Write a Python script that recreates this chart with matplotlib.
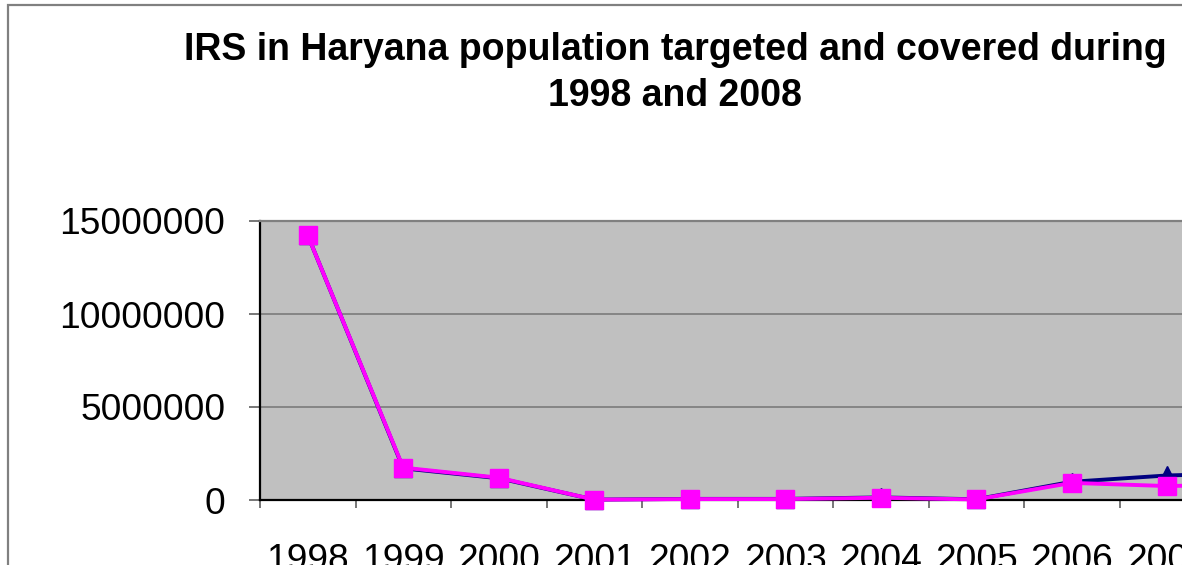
import numpy as np
import matplotlib
matplotlib.use("Agg")
import matplotlib.pyplot as plt
from matplotlib.patches import Rectangle

# Data (2008 lies outside the cropped view)
YEARS = ["1998", "1999", "2000", "2001", "2002", "2003", "2004", "2005", "2006", "2007", "2008"]
TARGETED = [14230000, 1700000, 1170000, 20000, 60000, 60000, 140000, 40000, 980000, 1320000, 1450000]
COVERED = [14230000, 1740000, 1200000, 20000, 50000, 50000, 120000, 30000, 920000, 750000, 850000]
Y_TICKS = [0, 5000000, 10000000, 15000000]

TITLE_LINES = ["IRS in Haryana population targeted and covered during", "1998 and 2008"]

FIG_W_PX, FIG_H_PX, DPI = 1182, 565, 100

plt.rcParams['font.family'] = ['Liberation Sans', 'DejaVu Sans']

fig = plt.figure(figsize=(FIG_W_PX / DPI, FIG_H_PX / DPI), dpi=DPI)
fig.patch.set_facecolor('white')

# chart-area border (continues past the cropped right/bottom edge)
fig.patches.append(Rectangle((8 / FIG_W_PX, -0.2), 1.5, 1 - 5 / FIG_H_PX + 0.2,
                             transform=fig.transFigure, fill=False,
                             edgecolor='#808080', linewidth=1.6))

# plot area in pixels: left 260, top 221, bottom 500, 95.5 px per category
left, top, bottom = 260, 221, 500
cat_w = 95.5
ax = fig.add_axes([left / FIG_W_PX, (FIG_H_PX - bottom) / FIG_H_PX,
                   cat_w * len(YEARS) / FIG_W_PX, (bottom - top) / FIG_H_PX])
ax.set_facecolor('#C0C0C0')

x = np.arange(len(YEARS))
ax.plot(x, TARGETED, color='#000080', linewidth=2.8, marker='^', markersize=12.5,
        markerfacecolor='#000080', markeredgecolor='#000080', zorder=3, clip_on=False)
ax.plot(x, COVERED, color='#FF00FF', linewidth=2.8, marker='s', markersize=12.5,
        markerfacecolor='#FF00FF', markeredgecolor='#FF00FF', zorder=4, clip_on=False)

ax.set_xlim(-0.5, len(YEARS) - 0.5)
ax.set_ylim(0, 15000000)

ax.set_yticks(Y_TICKS)
ax.set_yticklabels([str(v) for v in Y_TICKS], fontsize=26.7)
ax.grid(True, axis='y', color='#808080', linewidth=1.3, zorder=1)
ax.set_axisbelow(True)

# category boundaries as major ticks, labels at centres as minor ticks
ax.set_xticks(np.arange(-0.5, len(YEARS), 1.0))
ax.set_xticklabels([])
ax.set_xticks(x, minor=True)
ax.set_xticklabels(YEARS, minor=True, fontsize=26.7)
ax.tick_params(axis='x', which='major', direction='out', length=6, width=1.2, color='#606060')
ax.tick_params(axis='x', which='minor', length=0, pad=31)
ax.tick_params(axis='y', which='major', direction='out', length=8, width=1.2,
               color='#606060', pad=17)

for side in ['left', 'bottom']:
    ax.spines[side].set_color('black')
    ax.spines[side].set_linewidth(1.6)
ax.spines['top'].set_color('#808080')
ax.spines['top'].set_linewidth(1.6)
ax.spines['right'].set_visible(False)

# title: two centred lines, baselines at ~58 px and ~106 px from the top
for line, base_px in zip(TITLE_LINES, [60, 106]):
    fig.text(0.571, 1 - base_px / FIG_H_PX, line, ha='center', va='baseline',
             fontsize=27, fontweight='bold')

fig.savefig("out.png", dpi=DPI)
